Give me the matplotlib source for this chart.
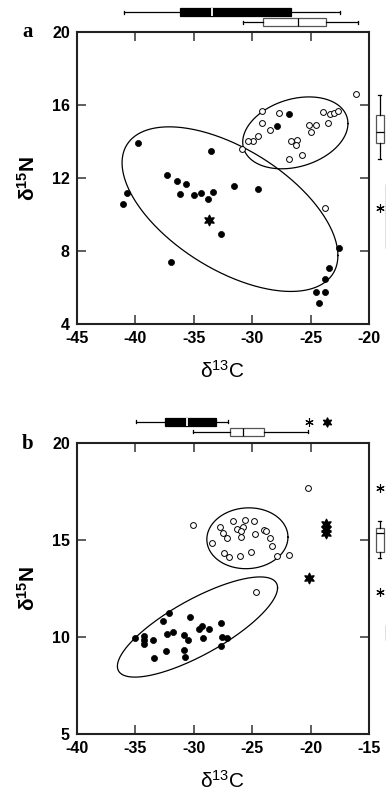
import numpy as np
import matplotlib
matplotlib.use("Agg")
import matplotlib.pyplot as plt

plt.rcParams['font.family'] = ['Liberation Sans', 'DejaVu Sans']
plt.rcParams['axes.unicode_minus'] = False
plt.rcParams['mathtext.fontset'] = 'custom'
plt.rcParams['mathtext.rm'] = 'Liberation Sans'
plt.rcParams['mathtext.bf'] = 'Liberation Sans:bold'

# ---------------- Panel a data ----------------
a_filled_x = [-39.74, -40.66, -41.03, -37.26, -36.46, -36.2, -35.63, -34.97, -34.37, -33.77,
              -33.31, -33.49, -31.57, -29.46, -32.69, -36.94, -27.89, -26.83, -22.6, -23.43,
              -23.77, -24.54, -23.77, -24.26]
a_filled_y = [13.94, 11.17, 10.61, 12.20, 11.87, 11.16, 11.71, 11.08, 11.21, 10.84,
              11.27, 13.50, 11.58, 11.43, 8.95, 7.41, 14.84, 15.50, 8.18, 7.08,
              6.50, 5.76, 5.76, 5.19]
a_open_x = [-21.14, -29.17, -27.71, -29.17, -28.43, -29.46, -29.94, -30.31, -30.86, -26.63,
            -26.14, -26.23, -26.86, -25.69, -25.09, -24.54, -24.94, -23.91, -23.54, -23.31,
            -22.97, -22.69, -23.74]
a_open_y = [16.61, 15.71, 15.56, 15.01, 14.64, 14.31, 14.07, 14.02, 13.60, 14.02,
            14.11, 13.85, 13.08, 13.30, 14.90, 14.90, 14.51, 15.63, 15.05, 15.50,
            15.60, 15.67, 10.39]
a_star_x = [-33.71]
a_star_y = [9.71]
# ellipses: centre x, centre y, half-extent x, half-extent y, cross term
a_ell_filled = [-31.89, 10.31, 9.23, 4.51, -23.45]
a_ell_open = [-26.30, 14.49, 4.50, 1.97, 2.3]
# box stats (whislo, q1, med, q3, whishi)
a_c13_filled = [-40.95, -36.16, -33.39, -26.68, -22.46]
a_c13_open = [-30.74, -29.08, -26.08, -23.72, -20.98]
a_n15_open = [13.05, 13.94, 14.54, 15.47, 16.55]
a_n15_open_out = [10.39]
a_n15_filled = [5.19, 8.2, 11.2, 11.71, 15.5]

# ---------------- Panel b data ----------------
b_filled_x = [-35.0, -34.23, -34.23, -34.23, -33.44, -33.38, -32.59, -32.07, -32.3, -31.73,
              -32.39, -30.82, -30.51, -30.82, -30.71, -30.31, -29.52, -29.32, -28.66, -29.23,
              -27.67, -27.61, -27.13, -27.67]
b_filled_y = [9.93, 10.05, 9.83, 9.66, 9.83, 8.94, 10.82, 11.25, 10.17, 10.24,
              9.26, 10.12, 9.86, 9.35, 8.97, 11.06, 10.43, 10.55, 10.43, 9.97,
              10.75, 10.0, 9.95, 9.52]
b_open_x = [-20.26, -30.09, -27.74, -26.63, -25.57, -24.86, -25.74, -26.29, -27.51, -27.14,
            -25.91, -25.94, -24.77, -24.0, -23.77, -23.43, -23.26, -28.43, -27.43, -26.94,
            -26.03, -25.06, -22.83, -21.8, -24.69]
b_open_y = [17.71, 15.79, 15.66, 15.97, 16.03, 16.0, 15.69, 15.57, 15.38, 15.12,
            15.47, 15.19, 15.31, 15.52, 15.5, 15.1, 14.69, 14.86, 14.34, 14.12,
            14.19, 14.38, 14.21, 14.24, 12.31]
b_star_x = [-20.14, -18.66, -18.66, -18.7]
b_star_y = [13.07, 15.86, 15.6, 15.38]
b_ell_filled = [-29.67, 10.52, 6.85, 2.585, 13.85]
b_ell_open = [-25.4, 15.1, 3.47, 1.57, 0.2]
b_c13_filled = [-34.95, -32.44, -30.58, -28.07, -27.07]
b_c13_open = [-30.07, -26.93, -25.74, -23.94, -20.22]
b_c13_out_thin = [-20.17]
b_c13_out_star = [-18.6]
b_n15_open = [14.1, 14.39, 15.35, 15.64, 16.0]
b_n15_open_out = [17.67, 12.33]
b_n15_filled = [8.94, 9.83, 10.0, 10.65, 11.25]

W, H = 386, 791
fig = plt.figure(figsize=(W / 100, H / 100), dpi=100)


def frac(left, top, right, bottom):
    return [left / W, 1 - bottom / H, (right - left) / W, (bottom - top) / H]


def ellipse(ax, p):
    cx, cy, wx, wy, r = p
    S = np.array([[wx ** 2, r], [r, wy ** 2]])
    L = np.linalg.cholesky(S)
    t = np.linspace(0, 2 * np.pi, 400)
    pts = L @ np.vstack([np.cos(t), np.sin(t)])
    ax.plot(cx + pts[0], cy + pts[1], color='black', lw=0.9)


def mkstats(v):
    return dict(whislo=v[0], q1=v[1], med=v[2], q3=v[3], whishi=v[4], fliers=[])


def box(ax, v, pos, filled, horizontal):
    fc = 'black' if filled else 'white'
    ec = 'black' if filled else '#555555'
    mc = 'white' if filled else 'black'
    kw = dict(positions=[pos], widths=0.8, patch_artist=True, showfliers=False,
              boxprops=dict(facecolor=fc, edgecolor=ec, linewidth=0.9),
              medianprops=dict(color=mc, linewidth=1.3 if filled else 0.9),
              whiskerprops=dict(color='black', linewidth=0.9),
              capprops=dict(color='black', linewidth=0.9),
              capwidths=[0.3])
    try:
        ax.bxp([mkstats(v)], orientation='horizontal' if horizontal else 'vertical', **kw)
    except TypeError:
        ax.bxp([mkstats(v)], vert=not horizontal, **kw)


star6 = (6, 1, 0)
aster6 = (6, 2, 0)


def main_panel(rect, xlim, ylim, xt, yt, fx, fy, ox, oy, sx, sy, e1, e2):
    ax = fig.add_axes(rect)
    ellipse(ax, e1)
    ellipse(ax, e2)
    ax.plot(fx, fy, 'o', ms=4.4, mfc='black', mec='black', mew=0.5, clip_on=False, zorder=3)
    ax.plot(ox, oy, 'o', ms=4.2, mfc='white', mec='black', mew=0.7, clip_on=False, zorder=3)
    ax.plot(sx, sy, ls='none', marker=star6, ms=8, mfc='black', mec='black', mew=0.8,
            clip_on=False, zorder=4)
    ax.set_xlim(*xlim)
    ax.set_ylim(*ylim)
    ax.set_xticks(xt)
    ax.set_yticks(yt)
    ax.tick_params(direction='in', length=6.5, width=1.1, top=True, right=True,
                   labelsize=11.5, pad=5, color='#333333')
    for lab in ax.get_xticklabels() + ax.get_yticklabels():
        lab.set_fontweight('bold')
    for s in ax.spines.values():
        s.set_linewidth(1.5)
        s.set_color('#222222')
    ax.set_xlabel(r'$\mathrm{\delta^{13}C}$', fontsize=15, labelpad=10)
    ax.set_ylabel(r'$\mathbf{\delta^{15}N}$', fontsize=15, labelpad=9)
    return ax


# ---- Panel a ----
axa = main_panel(frac(76.7, 32.3, 369, 324.3), (-45, -20), (4, 20),
                 [-45, -40, -35, -30, -25, -20], [4, 8, 12, 16, 20],
                 a_filled_x, a_filled_y, a_open_x, a_open_y, a_star_x, a_star_y,
                 a_ell_filled, a_ell_open)
topa = fig.add_axes(frac(76.7, 0, 369, 32.3))
box(topa, a_c13_filled, 1, True, True)
box(topa, a_c13_open, 2, False, True)
topa.set_xlim(-45, -20)
topa.set_ylim(3.0, -0.23)
topa.axis('off')
righta = fig.add_axes(frac(369, 32.3, 400, 324.3))
box(righta, a_n15_open, 1, False, False)
box(righta, a_n15_filled, 2, True, False)
righta.plot([1] * len(a_n15_open_out), a_n15_open_out, ls='none', marker=aster6,
            ms=6, mec='black', mew=0.8)
righta.set_xlim(-0.05, 3.05)
righta.set_ylim(4, 20)
righta.axis('off')
fig.text(22 / W, 1 - 37 / H, 'a', fontfamily='Liberation Serif', fontweight='bold',
         fontsize=15, va='baseline')

# ---- Panel b ----
axb = main_panel(frac(76.7, 443.3, 369, 734), (-40, -15), (5, 20),
                 [-40, -35, -30, -25, -20, -15], [5, 10, 15, 20],
                 b_filled_x, b_filled_y, b_open_x, b_open_y, b_star_x, b_star_y,
                 b_ell_filled, b_ell_open)
topb = fig.add_axes(frac(76.7, 405, 369, 443.3))
box(topb, b_c13_filled, 1, True, True)
box(topb, b_c13_open, 2, False, True)
topb.plot(b_c13_out_thin, [1] * len(b_c13_out_thin), ls='none', marker=aster6,
          ms=6, mec='black', mew=0.8)
topb.plot(b_c13_out_star, [1] * len(b_c13_out_star), ls='none', marker=star6,
          ms=7, mfc='black', mec='black', mew=0.8)
topb.set_xlim(-40, -15)
topb.set_ylim(3.16, -0.67)
topb.axis('off')
rightb = fig.add_axes(frac(369, 443.3, 400, 734))
box(rightb, b_n15_open, 1, False, False)
box(rightb, b_n15_filled, 2, True, False)
rightb.plot([1] * len(b_n15_open_out), b_n15_open_out, ls='none', marker=aster6,
            ms=6, mec='black', mew=0.8)
rightb.set_xlim(-0.05, 3.05)
rightb.set_ylim(5, 20)
rightb.axis('off')
fig.text(22 / W, 1 - 449 / H, 'b', fontfamily='Liberation Serif', fontweight='bold',
         fontsize=15, va='baseline')

fig.savefig('out.png', dpi=100)
